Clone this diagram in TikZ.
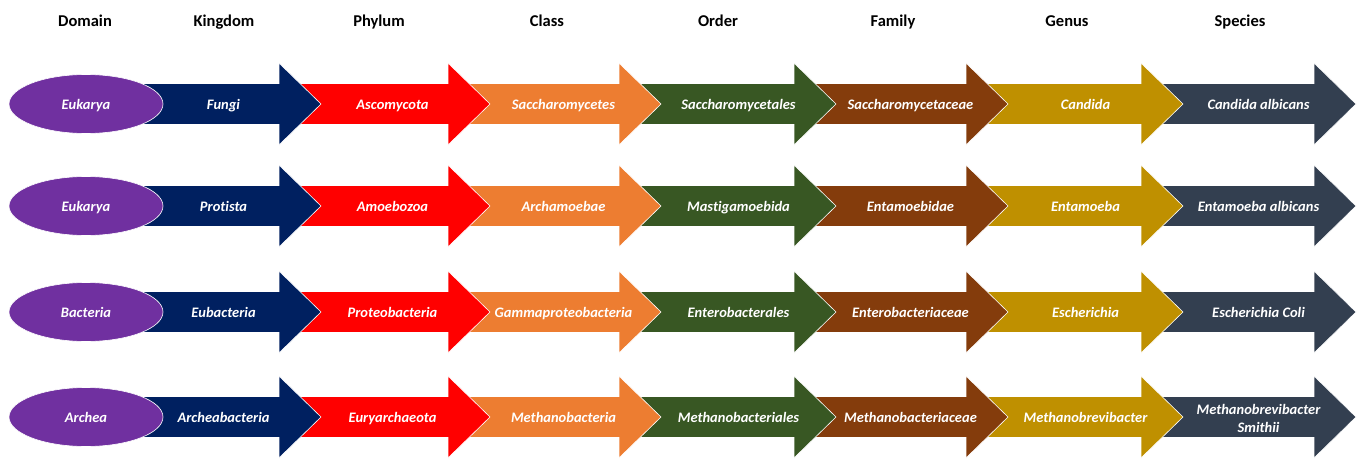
\documentclass[tikz,border=0pt]{standalone}
\usepackage{fontspec}
\setmainfont{Carlito}[Ligatures={NoCommon}]
\usetikzlibrary{shapes.geometric}
\definecolor{cpurple}{HTML}{7030A0}
\definecolor{cblue}{HTML}{002060}
\definecolor{cred}{HTML}{FF0000}
\definecolor{corange}{HTML}{ED7D31}
\definecolor{cgreen}{HTML}{385723}
\definecolor{cbrown}{HTML}{843C0C}
\definecolor{cgold}{HTML}{BF9000}
\definecolor{cslate}{HTML}{333F50}
\newcommand\tarrow[6][]{%
  \filldraw[fill=#4,arrowline] (#2,#3-20.5) -- (#2+153,#3-20.5) -- (#2+153,#3-41) -- (#2+195,#3) -- (#2+153,#3+41) -- (#2+153,#3+20.5) -- (#2,#3+20.5) -- cycle;
  \node[lbl,#1] (#5) at (#2+97.5,#3) {#6};}
\newcommand\tdomain[3]{%
  \node[domainbox] (#2) at (86,#1) {#3};}
\newcommand\trow[9]{%
  \tarrow[#2]{1161}{#1}{cslate}{sp}{#9}
  \tarrow{988}{#1}{cgold}{ge#2}{#8}
  \tarrow{813}{#1}{cbrown}{fa#2}{#7}
  \tarrow{641}{#1}{cgreen}{or#2}{#6}
  \tarrow{466}{#1}{corange}{cl#2}{#5}
  \tarrow{295}{#1}{cred}{ph#2}{#4}
  \tarrow{126}{#1}{cblue}{ki#2}{#3}}
\begin{document}
\begin{tikzpicture}[x=1pt,y=-1pt,
  lbl/.style={text=white,font=\bfseries\itshape\fontsize{14.5}{18}\selectfont,align=center,inner sep=0pt,text height=13pt,text depth=2pt},
  a/.style={name prefix=a},b/.style={name prefix=b},c/.style={name prefix=c},
  d/.style={name prefix=d,text height=,text depth=,yshift=-1pt},
  hdr/.style={font=\bfseries\fontsize{16.5}{19}\selectfont,inner sep=0pt,text height=14pt,text depth=2pt},
  arrowline/.style={draw=white,line width=0.6pt,line join=miter},
  domainbox/.style={ellipse,fill=cpurple,draw=white,line width=0.6pt,minimum width=154pt,minimum height=59pt,inner sep=0pt,text=white,font=\bfseries\itshape\fontsize{14.5}{17}\selectfont,text height=13pt,text depth=2pt}]
\useasboundingbox (0,0) rectangle (1357,458);
\node[hdr] (hdom) at (85,20) {Domain};
\node[hdr] (hkin) at (224,20) {Kingdom};
\node[hdr] (hphy) at (379,20) {Phylum};
\node[hdr] (hcla) at (547,20) {Class};
\node[hdr] (hord) at (718,20) {Order};
\node[hdr] (hfam) at (893,20) {Family};
\node[hdr] (hgen) at (1067,20) {Genus};
\node[hdr] (hspe) at (1240,20) {Species};
\trow{104}{a}{Fungi}{Ascomycota}{Saccharomycetes}{Saccharomycetales}{Saccharomycetaceae}{Candida}{Candida albicans}
\tdomain{104}{da}{Eukarya}
\trow{206}{b}{Protista}{Amoebozoa}{Archamoebae}{Mastigamoebida}{Entamoebidae}{Entamoeba}{Entamoeba albicans}
\tdomain{206}{db}{Eukarya}
\trow{312}{c}{Eubacteria}{Proteobacteria}{Gammaproteobacteria}{Enterobacterales}{Enterobacteriaceae}{Escherichia}{Escherichia Coli}
\tdomain{312}{dc}{Bacteria}
\trow{417}{d}{Archeabacteria}{Euryarchaeota}{Methanobacteria}{Methanobacteriales}{Methanobacteriaceae}{Methanobrevibacter}{Methanobrevibacter\\Smithii}
\tdomain{417}{dd}{Archea}
\end{tikzpicture}
\end{document}
